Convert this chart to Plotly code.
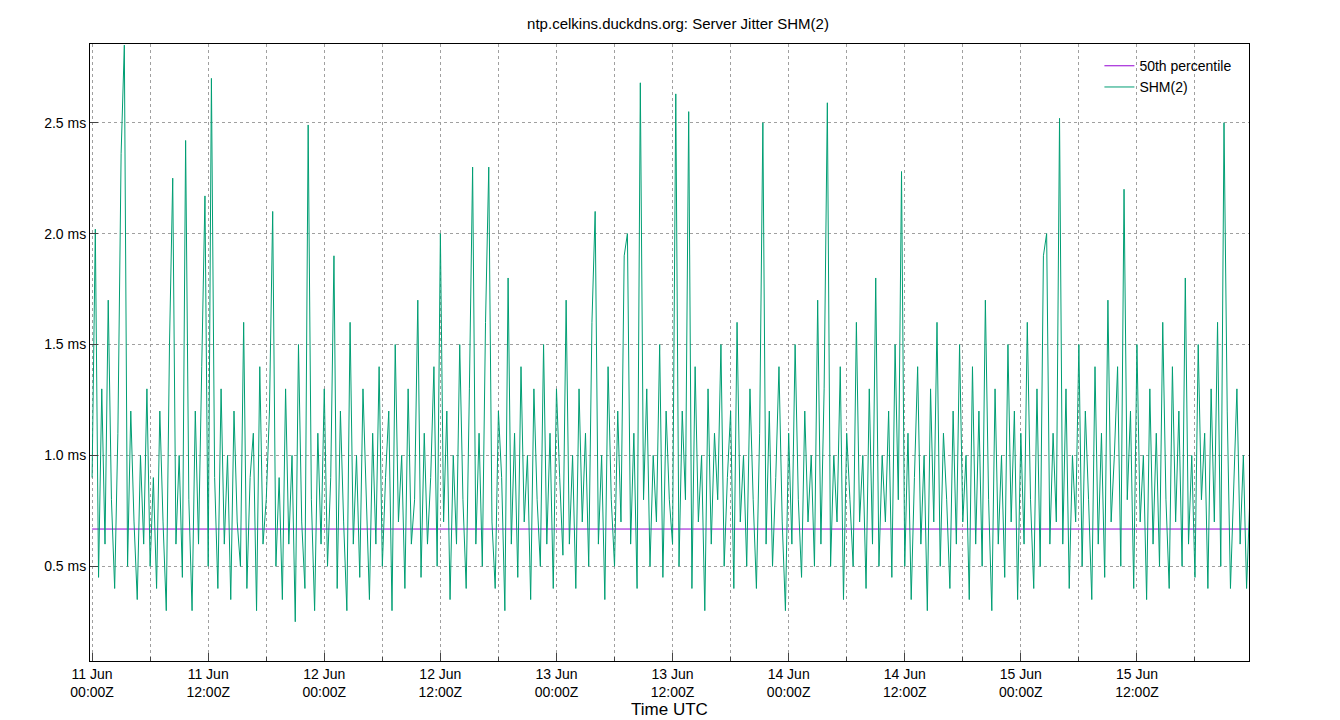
import plotly.graph_objects as go
import pandas as pd

start = "2023-06-11 00:00"
step_min = 20
median_ms = 0.668
jitter_ms = [
0.9,2.02,0.45,1.3,0.6,1.7,0.8,0.4,1.1,2.36,2.85,0.5,1.2,0.7,0.35,1.0,0.6,1.3,0.5,0.9,0.4,1.2,0.7,0.3,1.5,2.25,0.6,1.0,0.45,2.42,
0.8,0.3,1.2,0.6,1.4,2.17,0.5,2.7,0.9,0.4,1.3,0.6,1.0,0.35,1.2,0.7,0.5,1.6,0.4,0.9,1.1,0.3,1.4,0.6,0.8,1.2,2.1,0.5,0.9,0.35,
1.3,0.6,1.0,0.25,1.5,0.7,0.4,2.49,0.8,0.3,1.1,0.6,1.3,0.5,0.9,1.9,0.4,1.2,0.7,0.3,1.6,0.6,1.0,0.45,1.3,0.8,0.35,1.1,0.6,1.4,
0.5,0.9,1.2,0.3,1.5,0.7,1.0,0.4,1.3,0.6,0.8,1.7,0.45,1.1,0.6,0.9,1.4,0.5,2.0,0.7,1.2,0.35,1.0,0.6,1.5,0.8,0.4,1.3,2.3,0.6,
1.1,0.5,1.6,2.3,0.7,0.4,1.2,0.9,0.3,1.8,0.6,1.1,0.45,1.4,0.7,1.0,0.35,1.3,0.8,0.5,1.5,0.6,1.1,0.4,1.3,0.9,0.55,1.7,0.6,1.0,
0.4,1.3,0.7,1.1,0.5,1.6,2.1,0.6,1.0,0.35,1.4,0.8,0.5,1.2,0.7,1.9,2.0,0.6,1.1,0.4,2.68,0.8,1.3,0.5,1.0,0.7,1.5,0.45,1.2,0.8,
0.6,2.63,0.5,1.2,0.8,2.55,0.4,1.4,0.7,1.0,0.3,1.3,0.6,1.1,0.8,1.5,0.5,0.9,1.2,0.4,1.6,0.7,1.0,0.5,1.3,0.8,0.4,1.1,2.5,0.6,
1.2,0.5,0.9,1.4,0.7,0.3,1.1,0.6,1.5,0.8,0.45,1.2,0.7,1.0,0.5,1.7,0.6,1.3,2.59,0.5,1.0,0.7,1.4,0.35,1.1,0.8,0.5,1.6,0.7,1.0,
0.4,1.3,0.6,1.8,0.5,1.0,0.7,1.2,0.45,1.5,0.8,2.28,0.5,1.1,0.35,0.9,1.4,0.6,1.0,0.3,1.3,0.7,1.6,0.5,1.1,0.8,0.4,1.2,0.6,1.5,
0.7,1.0,0.35,1.4,0.6,1.2,0.5,1.7,0.8,0.3,1.3,0.6,1.0,0.45,1.5,0.7,1.2,0.35,1.1,0.6,1.6,0.8,0.4,1.3,0.5,1.9,2.0,0.6,1.1,0.7,
2.52,0.6,1.3,0.4,1.0,0.7,1.5,0.5,1.2,0.8,0.35,1.4,0.6,1.1,0.45,1.7,0.7,1.0,1.4,0.5,2.2,0.8,1.2,0.4,1.5,0.7,1.0,0.35,1.3,0.6,
1.1,0.5,1.6,0.8,0.4,1.4,0.7,1.2,0.5,1.8,0.6,1.0,0.45,1.5,0.8,1.1,0.4,1.3,0.7,1.6,0.5,2.5,1.2,0.4,0.9,1.3,0.6,1.0,0.4,0.8,
]
times = pd.date_range(start, periods=len(jitter_ms), freq=f"{step_min}min")

fig = go.Figure()
fig.add_trace(go.Scatter(x=[times[0], times[-1]], y=[median_ms, median_ms], mode="lines",
                         line=dict(color="#9400d3", width=1), name="50th percentile"))
fig.add_trace(go.Scatter(x=times, y=jitter_ms, mode="lines",
                         line=dict(color="#009e73", width=1), name="SHM(2)"))

tickvals = pd.date_range("2023-06-11 00:00", "2023-06-15 12:00", freq="12h")
ticktext = [t.strftime("%-d %b<br>%H:%MZ") for t in tickvals]

fig.update_layout(
    width=1340, height=720, plot_bgcolor="white", paper_bgcolor="white",
    margin=dict(l=82, r=99, t=36, b=60),
    font=dict(family="Liberation Sans, Arial", size=14, color="black"),
    title=dict(text="ntp.celkins.duckdns.org: Server Jitter SHM(2)", x=0.5, y=0.985, font=dict(size=15)),
    showlegend=True,
    legend=dict(x=0.99, y=0.99, xanchor="right", yanchor="top", bgcolor="rgba(0,0,0,0)", font=dict(size=14)),
    xaxis=dict(title=dict(text="Time UTC", standoff=4), range=[pd.Timestamp("2023-06-10 23:47"), pd.Timestamp("2023-06-15 23:35")],
               tickvals=tickvals, ticktext=ticktext, showgrid=True, gridcolor="#a0a0a0", griddash="dot",
               minor=dict(dtick=6*3600*1000, showgrid=True, gridcolor="#a0a0a0", griddash="dot", ticks="inside", ticklen=4),
               showline=True, linecolor="black", mirror=True, ticks="inside", ticklen=8, zeroline=False),
    yaxis=dict(range=[0.073, 2.855], tickvals=[0.5, 1.0, 1.5, 2.0, 2.5],
               ticktext=["0.5 ms", "1.0 ms", "1.5 ms", "2.0 ms", "2.5 ms"],
               showgrid=True, gridcolor="#a0a0a0", griddash="dot",
               showline=True, linecolor="black", mirror=True, ticks="inside", ticklen=8, zeroline=False),
)
fig.write_html("out.html")
